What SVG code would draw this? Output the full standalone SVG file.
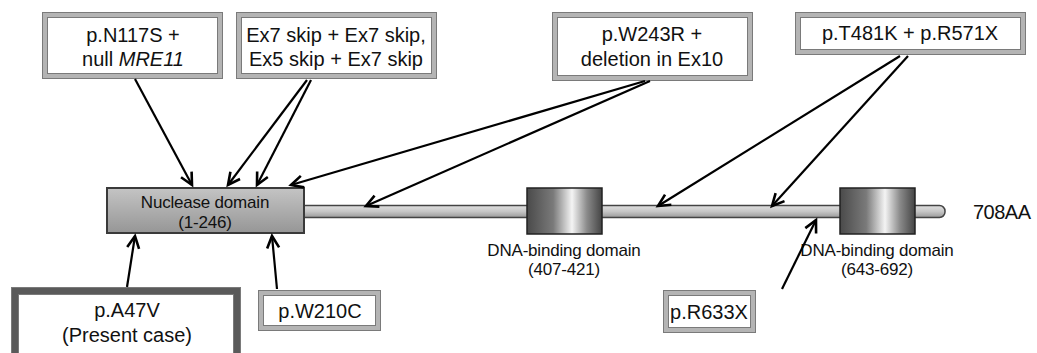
<svg xmlns="http://www.w3.org/2000/svg" width="1037" height="353" viewBox="0 0 1037 353">
<defs>
<style>
text{font-family:"Liberation Sans",Arial,sans-serif;fill:#111;}
.bt{font-size:20px;text-anchor:middle;}
.dt{font-size:17px;text-anchor:middle;letter-spacing:-0.2px;}
.frame{fill:#fff;stroke:#b4b4b4;stroke-width:5;}
.fline{fill:none;stroke:#7a7a7a;stroke-width:1;}
.conn{stroke:#000;stroke-width:2.2;fill:none;marker-end:url(#ah);}
</style>
<marker id="ah" markerUnits="userSpaceOnUse" markerWidth="18" markerHeight="18" refX="14" refY="8" orient="auto">
<path d="M2,2 L14,8 L2,14" fill="none" stroke="#000" stroke-width="2.6"/>
</marker>
<linearGradient id="nuc" x1="0" y1="0" x2="0" y2="1">
<stop offset="0" stop-color="#c4c4c4"/>
<stop offset="1" stop-color="#969696"/>
</linearGradient>
<linearGradient id="cyl" x1="0" y1="0" x2="1" y2="0">
<stop offset="0" stop-color="#4a4a4a"/>
<stop offset="0.35" stop-color="#7a7a7a"/>
<stop offset="0.6" stop-color="#f4f4f4"/>
<stop offset="0.8" stop-color="#8a8a8a"/>
<stop offset="1" stop-color="#444"/>
</linearGradient>
<linearGradient id="bar" x1="0" y1="0" x2="0" y2="1">
<stop offset="0" stop-color="#e0e0e0"/>
<stop offset="0.5" stop-color="#c6c6c6"/>
<stop offset="1" stop-color="#9a9a9a"/>
</linearGradient>
</defs>
<rect width="1037" height="353" fill="#fff"/>

<g id="protein-bar">
<rect x="300" y="205.5" width="645" height="12" rx="5.5" fill="url(#bar)" stroke="#444" stroke-width="1.5"/>
</g>

<g id="nuclease-domain">
<rect x="107" y="188" width="197" height="45" fill="url(#nuc)" stroke="#3a3a3a" stroke-width="2"/>
<text class="dt" x="205" y="208">Nuclease domain</text>
<text class="dt" x="205" y="228">(1-246)</text>
</g>

<g id="dna-binding-1">
<rect x="527" y="188" width="75" height="46" fill="url(#cyl)" stroke="#222" stroke-width="1.5"/>
<text class="dt" x="564" y="256">DNA-binding domain</text>
<text class="dt" x="564" y="275">(407-421)</text>
</g>

<g id="dna-binding-2">
<rect x="840" y="188" width="75" height="46" fill="url(#cyl)" stroke="#222" stroke-width="1.5"/>
<text class="dt" x="877" y="256">DNA-binding domain</text>
<text class="dt" x="877" y="275">(643-692)</text>
</g>

<g id="length-label">
<text x="973" y="219" style="font-size:20px;letter-spacing:-0.5px">708AA</text>
</g>

<g id="box-n117s">
<rect class="frame" x="45" y="15" width="175" height="61"/>
<rect class="fline" x="42.5" y="12.5" width="180" height="66"/>
<rect class="fline" x="47.5" y="17.5" width="170" height="56"/>
<text class="bt" x="133" y="42">p.N117S +</text>
<text class="bt" x="133" y="66">null <tspan font-style="italic">MRE11</tspan></text>
</g>

<g id="box-ex-skip">
<rect class="frame" x="239" y="15" width="195" height="61"/>
<rect class="fline" x="236.5" y="12.5" width="200" height="66"/>
<rect class="fline" x="241.5" y="17.5" width="190" height="56"/>
<text class="bt" x="336" y="42">Ex7 skip + Ex7 skip,</text>
<text class="bt" x="336" y="66">Ex5 skip + Ex7 skip</text>
</g>

<g id="box-w243r">
<rect class="frame" x="555" y="15" width="195" height="63"/>
<rect class="fline" x="552.5" y="12.5" width="200" height="68"/>
<rect class="fline" x="557.5" y="17.5" width="190" height="58"/>
<text class="bt" x="652" y="41">p.W243R +</text>
<text class="bt" x="652" y="66">deletion in Ex10</text>
</g>

<g id="box-t481k">
<rect class="frame" x="798" y="15" width="225" height="37"/>
<rect class="fline" x="795.5" y="12.5" width="230" height="42"/>
<rect class="fline" x="800.5" y="17.5" width="220" height="32"/>
<text class="bt" x="910" y="40">p.T481K + p.R571X</text>
</g>

<g id="box-a47v">
<rect x="15" y="291" width="222" height="70" fill="#fff" stroke="#5a5a5a" stroke-width="7"/>
<rect class="fline" x="11.5" y="287.5" width="229" height="77" stroke="#333"/>
<rect class="fline" x="18.5" y="294.5" width="215" height="63" stroke="#333"/>
<text class="bt" x="127" y="317">p.A47V</text>
<text class="bt" x="127" y="342">(Present case)</text>
</g>

<g id="box-w210c">
<rect class="frame" x="261" y="293" width="117" height="35"/>
<rect class="fline" x="258.5" y="290.5" width="122" height="40"/>
<rect class="fline" x="263.5" y="295.5" width="112" height="30"/>
<text class="bt" x="320" y="318">p.W210C</text>
</g>

<g id="box-r633x">
<rect class="frame" x="666" y="293" width="87" height="37"/>
<rect class="fline" x="663.5" y="290.5" width="92" height="42"/>
<rect class="fline" x="668.5" y="295.5" width="82" height="32"/>
<text class="bt" x="709" y="319">p.R633X</text>
</g>

<g id="connectors">
<line class="conn" x1="135" y1="79" x2="192" y2="185"/>
<line class="conn" x1="307" y1="80" x2="228" y2="185"/>
<line class="conn" x1="311" y1="80" x2="257" y2="185"/>
<line class="conn" x1="645" y1="81" x2="291" y2="185"/>
<line class="conn" x1="650" y1="81" x2="366" y2="206"/>
<line class="conn" x1="900" y1="56" x2="658" y2="206"/>
<line class="conn" x1="908" y1="56" x2="772" y2="206"/>
<line class="conn" x1="127" y1="287" x2="135" y2="236"/>
<line class="conn" x1="277" y1="289" x2="272" y2="236"/>
<line class="conn" x1="782" y1="289" x2="816" y2="220"/>
</g>
</svg>
